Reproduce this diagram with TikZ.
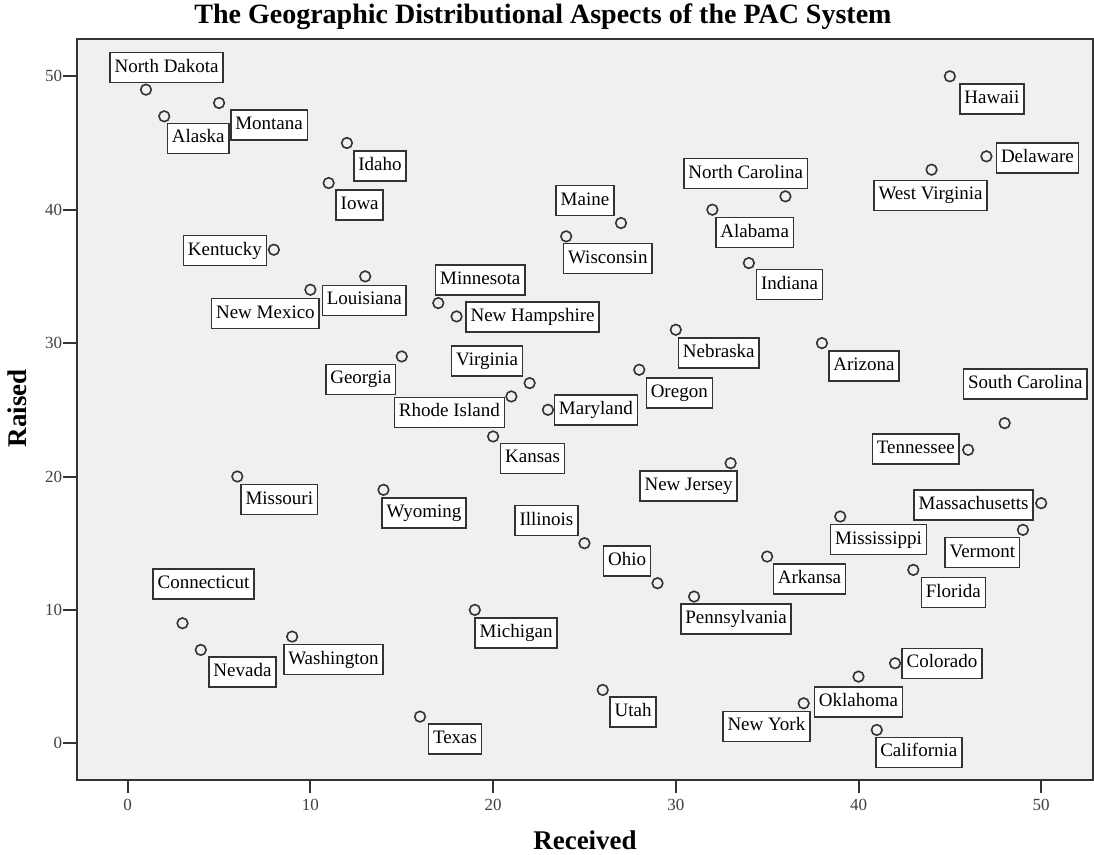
\documentclass[tikz,border=0pt]{standalone}
\usepackage{fontspec}
\setmainfont{Liberation Serif}
\usepackage{xcolor}
\usepackage{tikz}
\usetikzlibrary{positioning}

\definecolor{plotbg}{HTML}{F0F0F0}
\definecolor{inkgray}{HTML}{333333}

\begin{document}
\begin{tikzpicture}[
    x=18.27pt, y=13.34pt,
    obs/.style={circle, draw=inkgray, line width=1.6pt, minimum size=10.6pt, inner sep=0pt},
    lab/.style={rectangle, draw=inkgray, fill=white, line width=1.5pt, inner xsep=4.5pt, inner ysep=0pt, minimum height=30pt, text height=13pt, text depth=4pt, font=\fontsize{19}{22}\selectfont},
    ticklab/.style={inner sep=0pt, text=black!75, font=\fontsize{17}{20}\selectfont},
    axlab/.style={inner sep=0pt, font=\fontsize{27}{30}\selectfont\bfseries}
]
    \useasboundingbox (-6.990,-8.373) rectangle (52.890,55.720);
    \fill [plotbg] (-2.791,-2.751) rectangle (52.819,52.796);

    % states: received / raised / label offset / name
    \foreach \x/\y/\dx/\dy/\t [count=\i] in {
        1/49/20.7/22/North Dakota, 2/47/34/-22/Alaska, 5/48/50/-22/Montana,
        12/45/33/-23/Idaho, 11/42/31/-22/Iowa, 8/37/-49/-1/Kentucky,
        13/35/-1/-24/Louisiana, 10/34/-45/-24/New Mexico, 17/33/42/23/Minnesota,
        18/32/76/-0.5/New Hampshire, 15/29/-41/-23/Georgia, 22/27/-42.5/22/Virginia,
        21/26/-62/-16/Rhode Island, 23/25/48/0/Maryland, 20/23/39.5/-22/Kansas,
        30/31/43/-23/Nebraska, 28/28/40/-23/Oregon, 33/21/-42/-22.6/New Jersey,
        14/19/40.5/-23/Wyoming, 25/15/-38/22.6/Illinois, 29/12/-30.5/22/Ohio,
        6/20/42/-23/Missouri, 3/9/21/39.3/Connecticut, 4/7/41.7/-22.3/Nevada,
        9/8/41.3/-23/Washington, 19/10/41.3/-23.3/Michigan, 16/2/35/-22.6/Texas,
        26/4/30.4/-22.3/Utah, 31/11/42/-22.6/Pennsylvania, 35/14/42.3/-22.3/Arkansa,
        43/13/40/-22.7/Florida, 42/6/47/0/Colorado, 40/5/0/-25.5/Oklahoma,
        37/3/-37.3/-23/New York, 41/1/42/-22.3/California, 39/17/38.3/-23/Mississippi,
        50/18/-67.6/-1.6/Massachusetts, 49/16/-40.6/-22.7/Vermont, 46/22/-52.3/0.6/Tennessee,
        48/24/20.7/39/South Carolina, 38/30/42/-22.7/Arizona, 34/36/40.7/-21.6/Indiana,
        32/40/42.3/-23/Alabama, 36/41/-39.7/22.7/North Carolina, 27/39/-36/22.3/Maine,
        24/38/41.6/-22.3/Wisconsin, 44/43/-1/-25.7/West Virginia, 47/44/51/-1.7/Delaware,
        45/50/42/-22.7/Hawaii}
    {
        \node [obs] (p\i) at (\x,\y) {};
        \node [lab] (l\i) at ([xshift=\dx pt, yshift=\dy pt]p\i.center) {\t};
    }

    % axes
    \draw [inkgray, line width=2pt] (-2.791,-2.751) rectangle (52.819,52.796);
    \foreach \v in {0,10,...,50} {
        \draw [inkgray, line width=2pt] (\v,-2.751) -- (\v,-3.70);
        \node [ticklab, anchor=base] (tx\v) at (\v,-5.0) {\v};
        \draw [inkgray, line width=2pt] (-2.791,\v) -- (-3.55,\v);
        \node [ticklab, anchor=east] (ty\v) at (-3.58,\v) {\v};
    }

    \node [axlab, anchor=base] (xlab) at (25.03,-7.95) {Received};
    \node [axlab, anchor=base, rotate=90] (ylab) at (-5.566,25.13) {Raised};
    \node [anchor=base, font=\fontsize{28}{32}\selectfont\bfseries] (title) at (22.73,53.97)
        {The Geographic Distributional Aspects of the PAC System};
\end{tikzpicture}
\end{document}
